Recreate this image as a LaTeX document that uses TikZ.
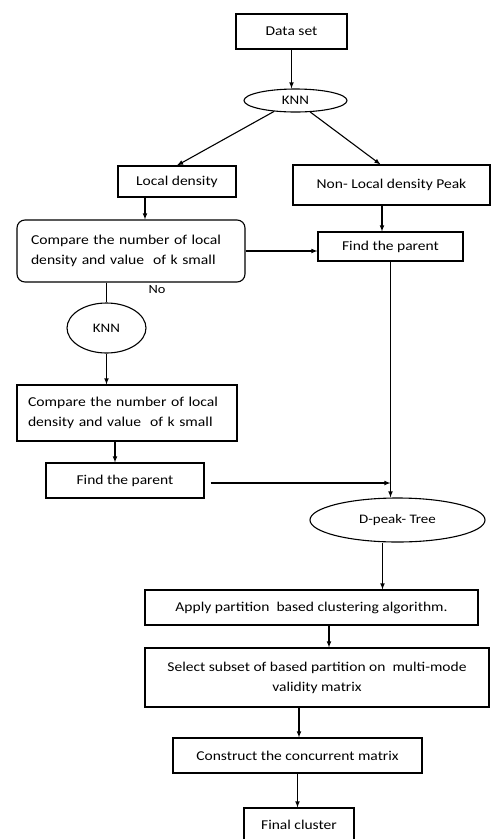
\documentclass[tikz,border=0pt]{standalone}
\usepackage{fontspec}
\setmainfont{Carlito}[FakeStretch=1.15]
\usetikzlibrary{shapes.geometric,calc}

\begin{document}
\begin{tikzpicture}[>=latex, x=1pt, y=-1pt, line width=1.1pt,
  box/.style={draw, rectangle, inner sep=2pt, align=center, font=\fontsize{13.5}{20}\selectfont},
  oval/.style={draw, ellipse, inner sep=0pt, font=\fontsize{13}{15}\selectfont},
  cmpbox/.style={box, align=left, inner xsep=14pt, inner ysep=0pt, font=\fontsize{13.6}{20}\selectfont}]

\useasboundingbox (0,0) rectangle (491,839);

\node[box, minimum width=111, minimum height=35] (data) at (291.5,31.5) {Data set};
\node[oval, minimum width=103, minimum height=23] (knnA) at (295.5,100.5) {KNN};
\node[box, minimum width=118, minimum height=31] (local) at (177,181.5) {Local density};
\node[box, minimum width=197, minimum height=40] (nonlocal) at (391.5,185) {Non- Local density Peak};
\node[cmpbox, rounded corners=8pt, text width=200, minimum height=62] (cmpA) at (131,251) {Compare the number of local\\density and value\ \ of k small};
\node[box, minimum width=145, minimum height=29] (parA) at (390.5,246.5) {Find the parent};
\node (no) at (157,290) [font=\fontsize{12.5}{14}\selectfont] {No};
\node[oval, minimum width=79, minimum height=50] (knnB) at (106.5,328) {KNN};
\node[cmpbox, inner xsep=11pt, text width=198, minimum height=56] (cmpB) at (127,413) {Compare the number of local\\density and value\ \ of k small};
\node[box, minimum width=158, minimum height=35] (parB) at (125,480.5) {Find the parent};
\node[oval, minimum width=175, minimum height=44] (dpeak) at (397.5,520) {D-peak- Tree};
\node[box, minimum width=333, minimum height=35] (apply) at (311.5,607.5) {Apply partition\ \ based clustering algorithm.};
\node[box, minimum width=344, minimum height=59] (select) at (317,677.5) {Select subset of based partition on\ \ multi-mode\\validity matrix};
\node[box, minimum width=249, minimum height=35] (constr) at (297.5,755.5) {Construct the concurrent matrix};
\node[box, minimum width=110, minimum height=34] (final) at (299,825) {Final cluster};

\draw[->](data.south)--(data.south |- knnA.north);
\draw[->](knnA.207)--(local.north);
\draw[->](knnA.322)--([xshift=-11]nonlocal.north);
\draw[->]([xshift=-32]local.south)--([xshift=-32]local.south |- cmpA.north);
\draw[->]([xshift=-9.5]nonlocal.south)--([xshift=-9.5]nonlocal.south |- parA.north);
\draw[->](cmpA.east)--(cmpA.east -| parA.west);
\draw(knnB.north |- cmpA.south)--(knnB.north);
\draw[->](knnB.south)--(knnB.south |- cmpB.north);
\draw[->]([xshift=-12]cmpB.south)--([xshift=-12]cmpB.south |- parB.north);

% both parents meet above the tree
\coordinate (meet) at ($(parB.east -| parA.south)+(0,2.5)$);
\draw[->](parA.south)--(parA.south |- dpeak.north);
\draw[->]([xshift=6]parB.east |- meet)--(meet);

\draw[->]([xshift=-15]dpeak.south)--([xshift=-15]dpeak.south |- apply.north);
\draw[->]([xshift=17.5]apply.south)--([xshift=17.5]apply.south |- select.north);
\draw[->]([xshift=-18]select.south)--([xshift=-18]select.south |- constr.north);
\draw[->](constr.south)--(constr.south |- final.north);

\end{tikzpicture}
\end{document}
